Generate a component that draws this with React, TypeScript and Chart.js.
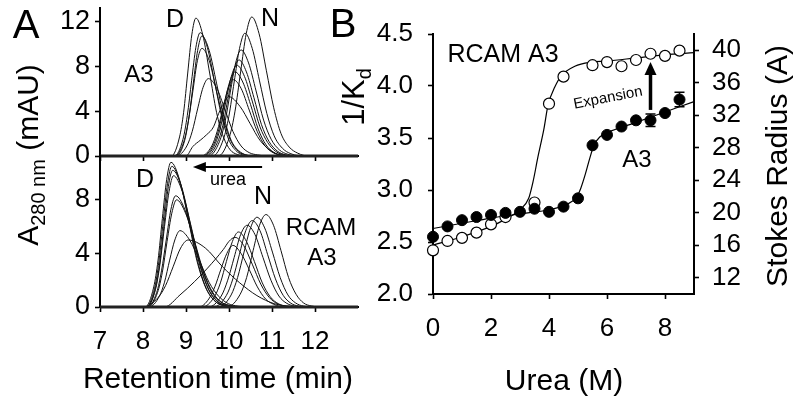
import React, { useEffect, useRef } from 'react';
import { Chart, registerables } from 'chart.js';
Chart.register(...registerables);

type P = [number, number];

const FONT = "'Liberation Sans', Arial, Helvetica, sans-serif";

// ---------- Panel A: chromatograms (retention time min, A280 mAU) ----------
const timeRange = [7, 13];
const timeTicks = [7, 8, 9, 10, 11, 12];
const topYTicks = [0, 4, 8, 12];
const botYTicks = [0, 4, 8];

// A3 (top) - denatured (D) peaks
const topD1: P[] = [[8.66, 0], [8.85, 1.7], [8.945, 3.9], [9.04, 7.4], [9.135, 10.8], [9.23, 12.3], [9.39, 10.8], [9.55, 7.4], [9.71, 3.9], [9.87, 1.7], [10.03, 0.54], [10.19, 0.14], [10.4, 0]];
const topD2: P[] = [[8.73, 0], [8.93, 1.5], [9.03, 3.6], [9.13, 6.7], [9.23, 9.7], [9.33, 11.0], [9.495, 9.7], [9.66, 6.7], [9.825, 3.6], [9.99, 1.5], [10.155, 0.5], [10.32, 0.1], [10.5, 0]];
const topD3: P[] = [[8.77, 0], [8.97, 1.4], [9.07, 3.5], [9.17, 6.5], [9.27, 9.4], [9.37, 10.7], [9.54, 9.4], [9.71, 6.5], [9.88, 3.5], [10.05, 1.4], [10.22, 0.5], [10.39, 0.1], [10.6, 0]];
const topD4: P[] = [[8.74, 0], [8.95, 1.3], [9.055, 3.1], [9.16, 5.8], [9.265, 8.5], [9.37, 9.6], [9.54, 8.5], [9.71, 5.8], [9.88, 3.1], [10.05, 1.3], [10.22, 0.4], [10.39, 0.1], [10.6, 0]];
const topD5: P[] = [[8.77, 0], [9.02, 0.9], [9.145, 2.2], [9.27, 4.2], [9.395, 6.1], [9.52, 6.9], [9.71, 6.1], [9.9, 4.2], [10.09, 2.2], [10.28, 0.9], [10.47, 0.3], [10.66, 0.1], [10.9, 0]];
// A3 (top) - intermediate and native (N) peaks
const topM: P[] = [[9.0, 0], [9.16, 0.85], [9.33, 1.4], [9.48, 1.9], [9.64, 2.6], [9.76, 3.8], [9.88, 4.7], [9.99, 5.3], [10.26, 4.4], [10.49, 2.9], [10.72, 1.4], [11.0, 0.4], [11.3, 0]];
const topN1: P[] = [[9.75, 0], [10.01, 1.7], [10.14, 4.0], [10.27, 7.5], [10.4, 10.9], [10.53, 12.4], [10.7, 10.9], [10.87, 7.6], [11.04, 4.3], [11.21, 2.0], [11.4, 0.8], [11.6, 0.25], [11.85, 0]];
const topN2: P[] = [[9.62, 0], [9.87, 1.5], [9.995, 3.5], [10.12, 6.6], [10.245, 9.6], [10.37, 10.95], [10.54, 9.6], [10.71, 6.7], [10.88, 3.8], [11.05, 1.8], [11.24, 0.7], [11.44, 0.2], [11.75, 0]];
const topN3: P[] = [[9.53, 0], [9.78, 1.3], [9.905, 3.0], [10.03, 5.7], [10.155, 8.3], [10.28, 9.46], [10.455, 8.3], [10.63, 5.8], [10.805, 3.2], [10.98, 1.5], [11.17, 0.55], [11.37, 0.15], [11.65, 0]];
const topN4: P[] = [[9.48, 0], [9.73, 1.2], [9.855, 2.7], [9.98, 5.2], [10.105, 7.5], [10.23, 8.57], [10.405, 7.5], [10.58, 5.2], [10.755, 2.8], [10.93, 1.3], [11.12, 0.45], [11.32, 0.1], [11.6, 0]];
const topN5: P[] = [[9.43, 0], [9.68, 1.1], [9.805, 2.6], [9.93, 4.9], [10.055, 7.1], [10.18, 8.1], [10.36, 7.1], [10.54, 4.9], [10.72, 2.6], [10.9, 1.2], [11.09, 0.4], [11.29, 0.1], [11.55, 0]];
const topN6: P[] = [[9.39, 0], [9.64, 1.0], [9.765, 2.4], [9.89, 4.6], [10.015, 6.6], [10.14, 7.5], [10.32, 6.6], [10.5, 4.6], [10.68, 2.4], [10.86, 1.0], [11.04, 0.33], [11.22, 0.1], [11.5, 0]];
const topN7: P[] = [[9.35, 0], [9.6, 0.9], [9.725, 2.2], [9.85, 4.1], [9.975, 6.0], [10.1, 6.8], [10.285, 6.0], [10.47, 4.1], [10.655, 2.2], [10.84, 0.9], [11.025, 0.3], [11.21, 0.08], [11.45, 0]];

// RCAM A3 (bottom) - D peaks
const botD1: P[] = [[8.05, 0], [8.25, 1.5], [8.35, 3.5], [8.45, 6.6], [8.55, 9.5], [8.65, 10.8], [8.85, 9.5], [9.05, 6.6], [9.25, 3.5], [9.45, 1.5], [9.65, 0.5], [9.85, 0.12], [10.1, 0]];
const botD2: P[] = [[8.07, 0], [8.27, 1.4], [8.37, 3.4], [8.47, 6.4], [8.57, 9.2], [8.67, 10.5], [8.87, 9.2], [9.07, 6.4], [9.27, 3.4], [9.47, 1.4], [9.67, 0.46], [9.87, 0.1], [10.1, 0]];
const botD3: P[] = [[8.09, 0], [8.29, 1.4], [8.39, 3.3], [8.49, 6.2], [8.59, 9.0], [8.69, 10.2], [8.895, 9.0], [9.1, 6.2], [9.305, 3.3], [9.51, 1.4], [9.715, 0.45], [9.92, 0.1], [10.15, 0]];
const botD4: P[] = [[8.08, 0], [8.29, 1.3], [8.395, 3.2], [8.5, 6.0], [8.605, 8.6], [8.71, 9.8], [8.915, 8.6], [9.12, 6.0], [9.325, 3.2], [9.53, 1.3], [9.735, 0.43], [9.94, 0.1], [10.2, 0]];
const botD5: P[] = [[8.1, 0], [8.32, 1.1], [8.43, 2.7], [8.54, 5.0], [8.65, 7.3], [8.76, 8.3], [8.97, 7.3], [9.18, 5.0], [9.39, 2.7], [9.6, 1.1], [9.81, 0.37], [10.02, 0.1], [10.3, 0]];
const botD6: P[] = [[8.12, 0], [8.34, 1.1], [8.45, 2.6], [8.56, 4.9], [8.67, 7.0], [8.78, 8.0], [8.99, 7.0], [9.2, 4.9], [9.41, 2.6], [9.62, 1.1], [9.83, 0.35], [10.04, 0.1], [10.3, 0]];
const botD7: P[] = [[8.14, 0], [8.38, 0.8], [8.5, 1.85], [8.62, 3.5], [8.74, 5.0], [8.86, 5.7], [9.085, 5.0], [9.31, 3.5], [9.535, 1.85], [9.76, 0.8], [9.985, 0.25], [10.21, 0.06], [10.5, 0]];
const botD8: P[] = [[8.0, 0], [8.35, 0.7], [8.525, 1.6], [8.7, 3.0], [8.875, 4.4], [9.05, 5.0], [9.45, 4.4], [9.85, 3.0], [10.25, 1.8], [10.65, 0.85], [11.05, 0.25], [11.45, 0.05], [11.8, 0]];
// RCAM A3 (bottom) - N peaks
const botN1: P[] = [[9.96, 0], [10.26, 0.95], [10.41, 2.2], [10.56, 4.2], [10.71, 6.1], [10.86, 6.9], [11.035, 6.1], [11.21, 4.2], [11.385, 2.2], [11.56, 0.95], [11.735, 0.3], [11.91, 0.08], [12.15, 0]];
const botN2: P[] = [[9.75, 0], [10.05, 0.9], [10.2, 2.2], [10.35, 4.1], [10.5, 5.9], [10.65, 6.7], [10.83, 5.9], [11.01, 4.1], [11.19, 2.2], [11.37, 0.9], [11.55, 0.3], [11.73, 0.07], [12.0, 0]];
const botN3: P[] = [[9.64, 0], [9.94, 0.87], [10.09, 2.1], [10.24, 3.9], [10.39, 5.7], [10.54, 6.45], [10.72, 5.7], [10.9, 3.9], [11.08, 2.1], [11.26, 0.87], [11.44, 0.28], [11.62, 0.07], [11.9, 0]];
const botN4: P[] = [[9.52, 0], [9.82, 0.82], [9.97, 2.0], [10.12, 3.7], [10.27, 5.4], [10.42, 6.1], [10.605, 5.4], [10.79, 3.7], [10.975, 2.0], [11.16, 0.82], [11.345, 0.27], [11.53, 0.07], [11.8, 0]];
const botN5: P[] = [[9.38, 0], [9.66, 0.76], [9.8, 1.8], [9.94, 3.4], [10.08, 4.9], [10.22, 5.6], [10.405, 4.9], [10.59, 3.4], [10.775, 1.8], [10.96, 0.76], [11.145, 0.25], [11.33, 0.06], [11.6, 0]];
const botN6: P[] = [[8.5, 0], [8.86, 0.9], [9.2, 1.9], [9.5, 2.9], [9.87, 4.3], [10.0, 4.9], [10.14, 5.2], [10.34, 4.6], [10.54, 3.2], [10.74, 1.7], [10.94, 0.7], [11.14, 0.22], [11.4, 0]];
const botN7: P[] = [[9.3, 0], [9.53, 0.6], [9.67, 1.5], [9.81, 2.8], [9.95, 4.0], [10.09, 4.6], [10.28, 4.0], [10.47, 2.8], [10.66, 1.5], [10.85, 0.6], [11.04, 0.2], [11.3, 0]];

const topCurves = [topD1, topD2, topD3, topD4, topD5, topM, topN1, topN2, topN3, topN4, topN5, topN6, topN7];
const botCurves = [botD1, botD2, botD3, botD4, botD5, botD6, botD7, botD8, botN1, botN2, botN3, botN4, botN5, botN6, botN7];

// urea arrow (bottom panel, data coordinates)
const ureaArrowT = [10.77, 9.16];
const ureaArrowV = 10.45;

// ---------- Panel B: 1/Kd vs urea ----------
const ureaTicks = [0, 2, 4, 6, 8];
const kdTicks = [2.0, 2.5, 3.0, 3.5, 4.0, 4.5];
const stokesTicks = [12, 16, 20, 24, 28, 32, 36, 40];

const a3Urea = [0, 0.5, 1, 1.5, 2, 2.5, 3, 3.5, 4, 4.5, 5, 5.5, 6, 6.5, 7, 7.5, 8, 8.5];
const a3Kd = [2.55, 2.65, 2.71, 2.74, 2.76, 2.78, 2.79, 2.82, 2.79, 2.84, 2.92, 3.43, 3.53, 3.61, 3.67, 3.67, 3.74, 3.87];
const a3Err = [0, 0, 0, 0, 0, 0, 0, 0, 0, 0, 0, 0, 0, 0, 0, 0.06, 0, 0.07];

const rcamUrea = [0, 0.5, 1, 1.5, 2, 2.5, 3.5, 4, 4.5, 5.5, 6, 6.5, 7, 7.5, 8, 8.5];
const rcamKd = [2.42, 2.51, 2.54, 2.59, 2.67, 2.74, 2.88, 3.83, 4.09, 4.2, 4.23, 4.19, 4.25, 4.31, 4.29, 4.34];

const a3FitX = [0, 1, 2, 3, 4, 4.6, 4.95, 5.1, 5.25, 5.4, 5.55, 5.75, 6, 7, 8, 9];
const a3FitY = [2.63, 2.68, 2.73, 2.77, 2.81, 2.86, 2.93, 3.02, 3.15, 3.3, 3.43, 3.51, 3.55, 3.65, 3.75, 3.85];
const rcamFitX = [0, 1, 2, 2.5, 3, 3.3, 3.45, 3.62, 3.82, 3.97, 4.2, 4.43, 4.89, 5.45, 6, 7, 8, 9];
const rcamFitY = [2.47, 2.55, 2.65, 2.72, 2.81, 2.92, 3.08, 3.32, 3.58, 3.82, 3.99, 4.1, 4.19, 4.23, 4.24, 4.27, 4.3, 4.32];

const expansionArrow = { x: 7.5, from: 3.77, to: 4.23 };

// ---------- helpers ----------
const setTicks = (vals: number[]) => (s: any) => {
  s.ticks = vals.map((v) => ({ value: v }));
};
const fixSize = (w: number | null, h: number | null) => (s: any) => {
  if (w !== null) s.width = w;
  if (h !== null) s.height = h;
  s.paddingTop = 0;
  s.paddingBottom = 0;
  s.paddingLeft = 0;
  s.paddingRight = 0;
};

function makeAxis(o: {
  min: number; max: number; ticks: number[]; position: string; size: number;
  showLabels: boolean; pad: number; fontSize?: number; fmt?: (v: number) => string;
}) {
  const horizontal = o.position === 'top' || o.position === 'bottom';
  return {
    type: 'linear',
    position: o.position,
    min: o.min,
    max: o.max,
    afterBuildTicks: setTicks(o.ticks),
    afterFit: fixSize(horizontal ? null : o.size, horizontal ? o.size : null),
    grid: { display: true, drawOnChartArea: false, drawTicks: true, tickLength: 5, tickWidth: 1.6, color: '#000' },
    border: { display: true, color: '#000', width: 2 },
    ticks: {
      display: o.showLabels,
      color: '#000',
      padding: o.pad,
      autoSkip: false,
      maxRotation: 0,
      font: { family: FONT, size: o.fontSize ?? 25 },
      callback: (v: any) => (o.fmt ? o.fmt(Number(v)) : String(v)),
    },
  };
}

function txt(ctx: CanvasRenderingContext2D, s: string, x: number, y: number, size: number, align: CanvasTextAlign = 'center') {
  ctx.font = `${size}px ${FONT}`;
  ctx.textAlign = align;
  ctx.textBaseline = 'alphabetic';
  ctx.fillStyle = '#000';
  ctx.fillText(s, x, y);
}

// rotated (-90deg) text made of parts [text, size, baselineShift], centered at cy, baseline at bx
function rotText(ctx: CanvasRenderingContext2D, parts: [string, number, number][], bx: number, cy: number) {
  ctx.save();
  let total = 0;
  for (const [s, size] of parts) {
    ctx.font = `${size}px ${FONT}`;
    total += ctx.measureText(s).width;
  }
  ctx.translate(bx, cy + total / 2);
  ctx.rotate(-Math.PI / 2);
  ctx.textAlign = 'left';
  ctx.textBaseline = 'alphabetic';
  ctx.fillStyle = '#000';
  let x = 0;
  for (const [s, size, dy] of parts) {
    ctx.font = `${size}px ${FONT}`;
    ctx.fillText(s, x, dy);
    x += ctx.measureText(s).width;
  }
  ctx.restore();
}

const curveSet = (c: P[]) => ({
  data: [{ x: timeRange[0], y: 0 }, ...c.map(([x, y]) => ({ x, y })), { x: timeRange[1], y: 0 }],
  showLine: true,
  borderColor: '#111',
  borderWidth: 1,
  pointRadius: 0,
  cubicInterpolationMode: 'monotone',
  clip: false,
});

const baselineSet = () => ({
  data: timeRange.map((x) => ({ x, y: 0 })),
  showLine: true,
  borderColor: '#222',
  borderWidth: 3,
  pointRadius: 0,
  clip: false,
});

const baseOpts = {
  responsive: false,
  animation: false,
  devicePixelRatio: 1,
  events: [],
  plugins: { legend: { display: false }, tooltip: { enabled: false }, title: { display: false } },
};

// ---------- plugins ----------
const topDecor = {
  id: 'topDecor',
  afterDraw(chart: any) {
    const ctx = chart.ctx;
    txt(ctx, 'D', 175, 27, 25);
    txt(ctx, 'N', 270, 26, 25);
    txt(ctx, 'A3', 139, 82, 24);
  },
};

const botDecor = {
  id: 'botDecor',
  afterDraw(chart: any) {
    const ctx = chart.ctx;
    const xs = chart.scales.x;
    const ys = chart.scales.y;
    txt(ctx, 'A', 26, 38, 40);
    txt(ctx, 'D', 145, 187, 25);
    txt(ctx, 'N', 263, 204, 25);
    txt(ctx, 'RCAM', 321, 235, 24);
    txt(ctx, 'A3', 322, 265, 24);
    txt(ctx, 'urea', 228, 185, 18);
    // urea arrow
    const x0 = xs.getPixelForValue(ureaArrowT[0]);
    const x1 = xs.getPixelForValue(ureaArrowT[1]);
    const y = ys.getPixelForValue(ureaArrowV);
    ctx.save();
    ctx.strokeStyle = '#000';
    ctx.fillStyle = '#000';
    ctx.lineWidth = 2;
    ctx.beginPath();
    ctx.moveTo(x0, y);
    ctx.lineTo(x1 + 10, y);
    ctx.stroke();
    ctx.beginPath();
    ctx.moveTo(x1, y);
    ctx.lineTo(x1 + 13, y - 5);
    ctx.lineTo(x1 + 13, y + 5);
    ctx.closePath();
    ctx.fill();
    ctx.restore();
    txt(ctx, 'Retention time (min)', 218, 388, 30);
    rotText(ctx, [['A', 30, 0], ['280 nm', 20, 7], [' (mAU)', 30, 0]], 38, 155);
  },
};

const bDecor = {
  id: 'bDecor',
  afterDatasetsDraw(chart: any) {
    const ctx = chart.ctx;
    const xs = chart.scales.x;
    const ys = chart.scales.y;
    ctx.save();
    ctx.strokeStyle = '#000';
    ctx.lineWidth = 1.5;
    a3Urea.forEach((u, i) => {
      const e = a3Err[i];
      if (!e) return;
      const px = xs.getPixelForValue(u);
      const pt = ys.getPixelForValue(a3Kd[i] + e);
      const pb = ys.getPixelForValue(a3Kd[i] - e);
      ctx.beginPath();
      ctx.moveTo(px, pt); ctx.lineTo(px, pb);
      ctx.moveTo(px - 5, pt); ctx.lineTo(px + 5, pt);
      ctx.moveTo(px - 5, pb); ctx.lineTo(px + 5, pb);
      ctx.stroke();
    });
    // expansion arrow
    const ax = xs.getPixelForValue(expansionArrow.x);
    const ay0 = ys.getPixelForValue(expansionArrow.from);
    const ay1 = ys.getPixelForValue(expansionArrow.to);
    ctx.lineWidth = 3.5;
    ctx.beginPath();
    ctx.moveTo(ax, ay0);
    ctx.lineTo(ax, ay1 + 10);
    ctx.stroke();
    ctx.fillStyle = '#000';
    ctx.beginPath();
    ctx.moveTo(ax, ay1);
    ctx.lineTo(ax - 6, ay1 + 13);
    ctx.lineTo(ax + 6, ay1 + 13);
    ctx.closePath();
    ctx.fill();
    ctx.restore();
  },
  afterDraw(chart: any) {
    const ctx = chart.ctx;
    txt(ctx, 'B', 343, 37, 40);
    txt(ctx, 'RCAM A3', 503, 62, 25);
    txt(ctx, 'A3', 637, 167, 24);
    ctx.save();
    ctx.translate(608, 98);
    ctx.rotate((-11 * Math.PI) / 180);
    ctx.font = `15px ${FONT}`;
    ctx.textAlign = 'center';
    ctx.textBaseline = 'middle';
    ctx.fillStyle = '#000';
    ctx.fillText('Expansion', 0, 0);
    ctx.restore();
    txt(ctx, 'Urea (M)', 564, 390, 30);
    rotText(ctx, [['1/K', 31, 0], ['d', 20, 7]], 364, 97);
    rotText(ctx, [['Stokes Radius (A)', 30, 0]], 787, 166);
  },
};

// ---------- configs ----------
function topConfig(): any {
  return {
    type: 'scatter',
    data: { datasets: [baselineSet(), ...topCurves.map(curveSet)] },
    options: {
      ...baseOpts,
      layout: { autoPadding: false, padding: { left: 0, top: 8, right: 442, bottom: 234 } },
      scales: {
        x: makeAxis({ min: timeRange[0], max: timeRange[1], ticks: timeTicks, position: 'bottom', size: 10, showLabels: false, pad: 0 }),
        y: makeAxis({ min: 0, max: 13.2, ticks: topYTicks, position: 'left', size: 100, showLabels: true, pad: 5, fontSize: 27 }),
      },
    },
    plugins: [topDecor],
  };
}

function botConfig(): any {
  return {
    type: 'scatter',
    data: { datasets: [baselineSet(), ...botCurves.map(curveSet)] },
    options: {
      ...baseOpts,
      layout: { autoPadding: false, padding: { left: 0, top: 156, right: 442, bottom: 33 } },
      scales: {
        x: makeAxis({ min: timeRange[0], max: timeRange[1], ticks: timeTicks, position: 'bottom', size: 60, showLabels: true, pad: 14, fontSize: 26 }),
        y: makeAxis({ min: 0, max: 11.27, ticks: botYTicks, position: 'left', size: 100, showLabels: true, pad: 5, fontSize: 27 }),
      },
    },
    plugins: [botDecor],
  };
}

function bConfig(): any {
  const pts = (xs: number[], ys: number[]) => xs.map((x, i) => ({ x, y: ys[i] }));
  return {
    type: 'scatter',
    data: {
      datasets: [
        { data: pts(a3Urea, a3Kd), pointRadius: 5.5, pointBackgroundColor: '#000', pointBorderColor: '#000', pointBorderWidth: 1, order: 1, clip: false },
        { data: pts(rcamUrea, rcamKd), pointRadius: 5.5, pointBackgroundColor: '#fff', pointBorderColor: '#000', pointBorderWidth: 1.2, order: 2, clip: false },
        { data: pts(a3FitX, a3FitY), showLine: true, pointRadius: 0, borderColor: '#000', borderWidth: 1.2, cubicInterpolationMode: 'monotone', order: 5, clip: false },
        { data: pts(rcamFitX, rcamFitY), showLine: true, pointRadius: 0, borderColor: '#000', borderWidth: 1.2, cubicInterpolationMode: 'monotone', order: 6, clip: false },
      ],
    },
    options: {
      ...baseOpts,
      layout: { autoPadding: false, padding: { left: 353, top: 34, right: 46, bottom: 56 } },
      scales: {
        x: makeAxis({ min: 0, max: 9, ticks: ureaTicks, position: 'bottom', size: 50, showLabels: true, pad: 14, fontSize: 26 }),
        y: makeAxis({ min: 2.0, max: 4.5, ticks: kdTicks, position: 'left', size: 80, showLabels: true, pad: 15, fontSize: 26, fmt: (v) => v.toFixed(1) }),
        y2: makeAxis({ min: 10, max: 42, ticks: stokesTicks, position: 'right', size: 60, showLabels: true, pad: 13, fontSize: 26 }),
      },
    },
    plugins: [bDecor],
  };
}

export default function App() {
  const r1 = useRef<HTMLCanvasElement>(null);
  const r2 = useRef<HTMLCanvasElement>(null);
  const r3 = useRef<HTMLCanvasElement>(null);
  useEffect(() => {
    const charts: Chart[] = [];
    if (r1.current) charts.push(new Chart(r1.current, topConfig()));
    if (r2.current) charts.push(new Chart(r2.current, botConfig()));
    if (r3.current) charts.push(new Chart(r3.current, bConfig()));
    return () => charts.forEach((c) => c.destroy());
  }, []);
  const cs: React.CSSProperties = { position: 'absolute', left: 0, top: 0 };
  return (
    <div style={{ position: 'fixed', left: 0, top: 0, width: 800, height: 400, background: '#fff' }}>
      <canvas ref={r1} width={800} height={400} style={cs} />
      <canvas ref={r2} width={800} height={400} style={cs} />
      <canvas ref={r3} width={800} height={400} style={cs} />
    </div>
  );
}
